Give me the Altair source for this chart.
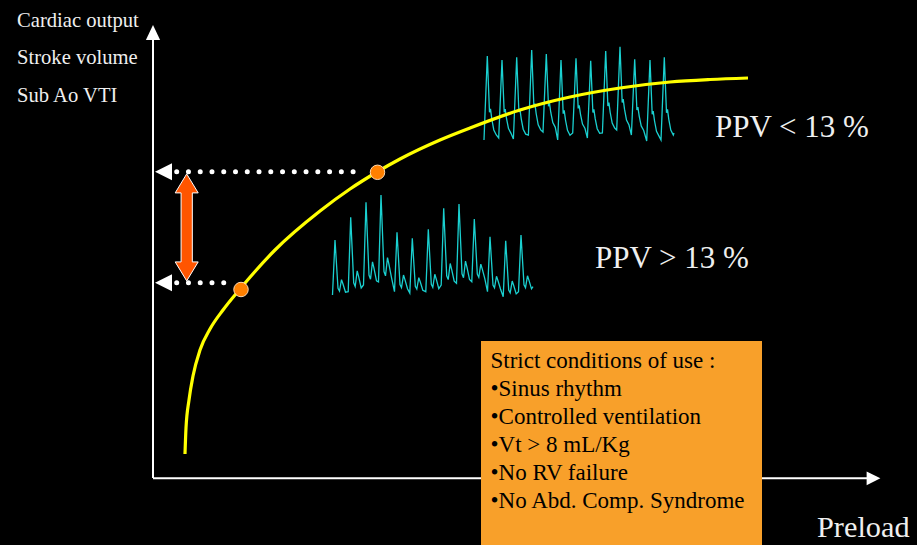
import altair as alt
import pandas as pd

W, H = 917, 545

# ---- data (diagram units) ----
curve_x = [185, 186, 189, 193, 200, 210, 223, 240, 275, 320, 350, 377, 400, 440, 470, 520, 570, 620, 670, 710, 748]
curve_y = [454, 428, 400, 376, 350, 329, 310, 289, 250, 211, 189, 172, 159, 140, 128, 110, 97, 88, 82, 79.5, 78]

dot_x = [241, 377.5]
dot_y = [289.5, 172.3]

# pulse-pressure traces: beat peaks and troughs
up_peak_x = [487.3, 502, 516.7, 531.7, 546.3, 561, 576, 590.7, 605.7, 620, 634.7, 650, 664.3]
up_peak_y = [56, 60, 57.3, 50, 54, 60, 58.3, 60.7, 51, 46.7, 59.3, 60, 57.3]
up_trough_y = [140, 138, 139, 135, 132, 140, 133, 138, 133, 130, 135, 141, 140]
up_end = [674, 133]
up_shape_dx = [-3.3, 0.0, 2.2, 3.2, 4.5, 6.5, 9.0]
up_shape_f = [0.0, 1.0, 0.33, 0.37, 0.25, 0.12, 0.06]

lo_peak_x = [335, 350.7, 366, 381, 397, 412.3, 428.3, 443.7, 459, 474.3, 490, 505.7, 521]
lo_peak_y = [240, 217.3, 202.3, 195, 232.3, 238.3, 229.3, 208.3, 204, 219, 236.7, 240.7, 235]
lo_trough_y = [295, 291.7, 285, 282, 291.7, 293, 291.7, 285, 283.3, 281.7, 291.7, 296.7, 291.7]
lo_end = [533, 286.7]
lo_shape_dx = [-2.5, 0.0, 3.0, 4.5, 6.5, 8.0, 10.5]
lo_shape_f = [0.0, 1.0, 0.12, 0.07, 0.28, 0.2, 0.05]

# axes of the diagram
y_axis = [153, 478, 39]       # x, y bottom, y top
x_axis = [153, 868, 478.3]    # x left, x right, y
y_tip = [153, 32.5]
x_tip = [873.5, 478.3]

# dotted guides to the y axis
guide_y = [171.7, 282.7]
guide_x1 = [176.7, 176.7]
guide_x2 = [353.5, 235.5]
guide_tri_x = [163.5, 163.5]

# double arrow (delta stroke volume)
darrow = [186.7, 227.4]

# conditions box
box = [481, 762, 341, 545]
box_lines = ["Strict conditions of use :", "\u2022Sinus rhythm", "\u2022Controlled ventilation",
             "\u2022Vt > 8 mL/Kg", "\u2022No RV failure", "\u2022No Abd. Comp. Syndrome"]
box_text_x = 490.5
box_text_y = [368.3, 396.3, 424.3, 452.3, 480.3, 508.3]

labels = ["Cardiac output", "Stroke volume", "Sub Ao VTI", "PPV < 13 %", "PPV > 13 %", "Preload"]
label_x = [17, 17, 17, 715, 595, 817]
label_y = [27, 64, 101.7, 136.7, 268.3, 536.7]
label_size = [20.6, 20.6, 20.6, 31, 31, 30.3]

FONT = "Liberation Serif"

# ---- build tables ----
def trace(px, py, ty, end, dxs, fs):
    rows = []
    for i in range(len(px)):
        amp = ty[i] - py[i]
        for dx, f in zip(dxs, fs):
            rows.append((px[i] + dx, ty[i] - f * amp))
    rows.append(tuple(end))
    return pd.DataFrame({"x": [r[0] for r in rows], "y": [r[1] for r in rows], "i": range(len(rows))})

up_df = trace(up_peak_x, up_peak_y, up_trough_y, up_end, up_shape_dx, up_shape_f)
lo_df = trace(lo_peak_x, lo_peak_y, lo_trough_y, lo_end, lo_shape_dx, lo_shape_f)

xs = alt.Scale(domain=[0, W], nice=False, zero=False)
ys = alt.Scale(domain=[0, H], reverse=True, nice=False, zero=False)
X = lambda f="x": alt.X(f"{f}:Q", scale=xs, axis=None)
Y = lambda f="y": alt.Y(f"{f}:Q", scale=ys, axis=None)

axes_df = pd.DataFrame({
    "x": [y_axis[0], x_axis[0]], "x2": [y_axis[0], x_axis[1]],
    "y": [y_axis[1], x_axis[2]], "y2": [y_axis[2], x_axis[2]],
})
axes = alt.Chart(axes_df).mark_rule(color="white", strokeWidth=2).encode(
    x=X(), x2="x2:Q", y=Y(), y2="y2:Q")

tip_up = alt.Chart(pd.DataFrame({"x": [y_tip[0]], "y": [y_tip[1]]})).mark_point(
    shape="M0,-1L-0.95,1L0.95,1Z", filled=True, color="white", opacity=1, size=225
).encode(x=X(), y=Y())
tip_right = alt.Chart(pd.DataFrame({"x": [x_tip[0]], "y": [x_tip[1]]})).mark_point(
    shape="M1,0L-1,-1L-1,1Z", filled=True, color="white", opacity=1, size=190
).encode(x=X(), y=Y())

guides_df = pd.DataFrame({"x": guide_x1, "x2": guide_x2, "y": guide_y})
guides = alt.Chart(guides_df).mark_rule(
    color="white", strokeWidth=5, strokeCap="round", strokeDash=[0.01, 11.75]
).encode(x=X(), x2="x2:Q", y=Y())

tri_df = pd.DataFrame({"x": guide_tri_x, "y": guide_y})
tris = alt.Chart(tri_df).mark_point(
    shape="M-1,0L1,-1L1,1Z", filled=True, color="white", opacity=1, size=289
).encode(x=X(), y=Y())

curve = alt.Chart(pd.DataFrame({"x": curve_x, "y": curve_y})).mark_line(
    color="#ffff00", strokeWidth=3.2, interpolate="monotone"
).encode(x=X(), y=Y())

wave_up = alt.Chart(up_df).mark_line(color="#1ad0d0", strokeWidth=1.3).encode(
    x=X(), y=Y(), order="i:Q")
wave_lo = alt.Chart(lo_df).mark_line(color="#1ad0d0", strokeWidth=1.3).encode(
    x=X(), y=Y(), order="i:Q")

dots = alt.Chart(pd.DataFrame({"x": dot_x, "y": dot_y})).mark_circle(
    color="#ff8000", opacity=1, size=210, stroke="#ffd9b0", strokeWidth=1
).encode(x=X(), y=Y())

darrow_shape = ("M0,-1L0.215,-0.645L0.105,-0.645L0.105,0.645L0.215,0.645L0,1"
                "L-0.215,0.645L-0.105,0.645L-0.105,-0.645L-0.215,-0.645Z")
dbl = alt.Chart(pd.DataFrame({"x": [darrow[0]], "y": [darrow[1]]})).mark_point(
    shape=darrow_shape, filled=True, fill="#ff5500", opacity=1, size=107 * 107,
    stroke="white", strokeWidth=1
).encode(x=X(), y=Y())

box_df = pd.DataFrame({"x": [box[0]], "x2": [box[1]], "y": [box[2]], "y2": [box[3]]})
rect = alt.Chart(box_df).mark_rect(color="#f8a02a", opacity=1).encode(
    x=X(), x2="x2:Q", y=Y(), y2="y2:Q")

box_txt = alt.Chart(pd.DataFrame({"x": [box_text_x] * len(box_lines), "y": box_text_y, "t": box_lines})).mark_text(
    align="left", baseline="alphabetic", font=FONT, fontSize=23, color="black"
).encode(x=X(), y=Y(), text="t:N")

lab_txt = alt.Chart(pd.DataFrame({"x": label_x, "y": label_y, "t": labels, "s": label_size})).mark_text(
    align="left", baseline="alphabetic", font=FONT, color="#efefef"
).encode(x=X(), y=Y(), text="t:N", size=alt.Size("s:Q", scale=None, legend=None))

chart = alt.layer(
    axes, tip_up, tip_right, guides, tris, wave_up, wave_lo, curve, dots, dbl, rect, box_txt, lab_txt
).properties(
    width=W, height=H, background="black", padding=0, autosize=alt.AutoSizeParams(type="none")
).configure_view(stroke=None)

chart.save("out.html", embed_options={"renderer": "svg", "actions": False})
